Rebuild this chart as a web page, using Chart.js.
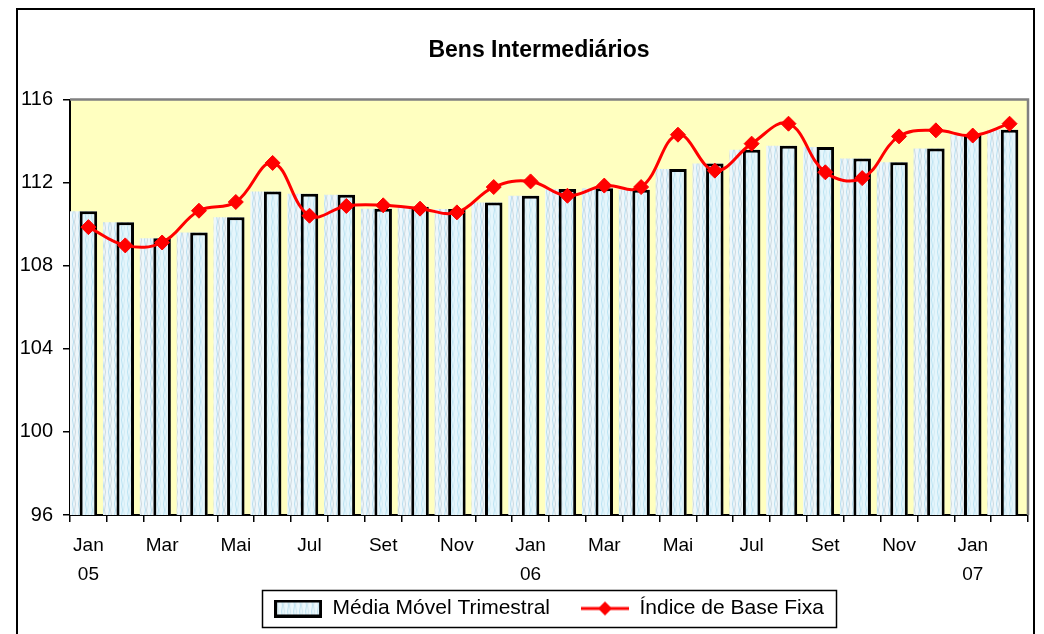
<!DOCTYPE html>
<html>
<head>
<meta charset="utf-8">
<script src="https://cdn.jsdelivr.net/npm/chart.js@4/dist/chart.umd.min.js"></script>
<style>
html,body{margin:0;padding:0;background:#fff;}
#wrap{position:relative;width:1044px;height:634px;overflow:hidden;}
#frame{position:absolute;left:16px;top:8px;width:1019px;height:660px;border:2px solid #000;box-sizing:border-box;pointer-events:none;}
canvas{position:absolute;left:0;top:0;}
</style>
</head>
<body>
<div id="wrap"><canvas id="c" width="1044" height="634"></canvas><div id="frame"></div></div>
<script>
// ---- data ----
const categories = ["Jan 05","Fev 05","Mar 05","Abr 05","Mai 05","Jun 05","Jul 05","Ago 05","Set 05","Out 05","Nov 05","Dez 05",
  "Jan 06","Fev 06","Mar 06","Abr 06","Mai 06","Jun 06","Jul 06","Ago 06","Set 06","Out 06","Nov 06","Dez 06",
  "Jan 07","Fev 07"];
const tickLabels = [["Jan","05"],"",["Mar"],"",["Mai"],"",["Jul"],"",["Set"],"",["Nov"],"",
  ["Jan","06"],"",["Mar"],"",["Mai"],"",["Jul"],"",["Set"],"",["Nov"],"",
  ["Jan","07"],""];
const mediaMovel = [110.62,110.09,109.33,109.60,110.33,111.57,111.47,111.42,110.75,110.84,110.73,111.04,
  111.37,111.70,111.73,111.66,112.66,112.92,113.59,113.78,113.72,113.16,112.98,113.64,
  114.31,114.55];
const indiceBaseFixa = [109.86,108.98,109.12,110.65,111.07,112.95,110.41,110.88,110.91,110.75,110.57,111.79,
  112.06,111.37,111.86,111.79,114.31,112.58,113.88,114.84,112.50,112.22,114.23,114.52,
  114.27,114.84];
const yTicks = [96,100,104,108,112,116];
const seriesNames = ["Média Móvel Trimestral","Índice de Base Fixa"];
const chartTitle = "Bens Intermediários";

// ---- styles ----
const FONT = "'Liberation Sans', Arial, sans-serif";
const canvas = document.getElementById('c');

function makeHatch(bg, c1, c2){
  const c = document.createElement('canvas'); c.width = 6; c.height = 12;
  const x = c.getContext('2d');
  x.fillStyle = bg; x.fillRect(0,0,6,12);
  x.lineWidth = 1;
  x.strokeStyle = c1; x.beginPath(); x.moveTo(1.5,0); x.lineTo(2.5,6); x.lineTo(1.5,12); x.stroke();
  x.strokeStyle = c2; x.beginPath(); x.moveTo(4.5,0); x.lineTo(3.5,6); x.lineTo(4.5,12); x.stroke();
  return x.createPattern(c,'repeat');
}
const ghostFill = makeHatch('#eef7fb','#b8def0','#cdd9e0');
const barFill = makeHatch('#e6f6fc','#bce4f4','#d2ecf5');

function barSwatch(){
  const c = document.createElement('canvas'); c.width = 48; c.height = 18;
  const x = c.getContext('2d');
  x.fillStyle = makeHatch('#ecf8fc','#b9dfee','#cfe6ee');
  x.fillRect(0,0,48,18);
  x.strokeStyle = '#000'; x.lineWidth = 3;
  x.strokeRect(1.5,1.5,45,15);
  return c;
}
function lineSwatch(){
  const c = document.createElement('canvas'); c.width = 48; c.height = 18;
  const x = c.getContext('2d');
  x.strokeStyle = '#ff0000'; x.lineWidth = 3;
  x.beginPath(); x.moveTo(0,9); x.lineTo(48,9); x.stroke();
  x.fillStyle = '#ff0000';
  x.beginPath(); x.moveTo(24,2); x.lineTo(31,9); x.lineTo(24,16); x.lineTo(17,9); x.closePath(); x.fill();
  return c;
}
const swatches = [barSwatch(), lineSwatch()];

const plotDecor = {
  id: 'plotDecor',
  beforeDraw(chart){
    const {ctx, chartArea:a} = chart;
    ctx.save();
    ctx.fillStyle = '#ffffc0';
    ctx.fillRect(a.left, a.top, a.right - a.left, a.bottom - a.top);
    ctx.restore();
  },
  beforeDatasetDraw(chart, args){
    if (chart.data.datasets[args.index].ghost){
      const {ctx, chartArea:a} = chart;
      ctx.save();
      ctx.beginPath(); ctx.rect(a.left, a.top, a.right - a.left, a.bottom - a.top); ctx.clip();
      ctx.translate(-7, 0);
    }
  },
  afterDatasetDraw(chart, args){
    if (chart.data.datasets[args.index].ghost) chart.ctx.restore();
  },
  afterDraw(chart){
    const {ctx, chartArea:a} = chart;
    ctx.save();
    ctx.strokeStyle = '#808080'; ctx.lineWidth = 2.5;
    ctx.beginPath();
    ctx.moveTo(a.left, a.top); ctx.lineTo(a.right, a.top); ctx.lineTo(a.right, a.bottom);
    ctx.stroke();
    const hb = chart.legend && chart.legend.legendHitBoxes;
    if (hb && hb.length){
      let l = Infinity, r = -Infinity, t = Infinity, b = -Infinity;
      hb.forEach(h => { l = Math.min(l, h.left); r = Math.max(r, h.left + h.width); t = Math.min(t, h.top); b = Math.max(b, h.top + h.height); });
      ctx.strokeStyle = '#000'; ctx.lineWidth = 1.5;
      ctx.strokeRect(Math.round(l - 12) + 0.5, Math.round(t - 8) + 0.5, Math.round(r - l + 24), Math.round(b - t + 16));
    }
    ctx.restore();
  }
};

function noLabelClip(scale){ scale._computeLabelArea = () => undefined; }

new Chart(canvas, {
  data: {
    labels: categories,
    datasets: [
      { type:'bar', label: seriesNames[0], data: mediaMovel, backgroundColor: barFill,
        borderColor:'#000', borderWidth:3, grouped:false, barPercentage:0.475, categoryPercentage:1, order:1 },
      { type:'line', label: seriesNames[1], data: indiceBaseFixa, borderColor:'#ff0000', borderWidth:3,
        tension:0.4, pointStyle:'rectRot', pointRadius:7.5, pointBackgroundColor:'#ff0000',
        pointBorderColor:'#ff0000', pointBorderWidth:1, order:0 },
      { type:'bar', label:'ghost', ghost:true, data: mediaMovel, backgroundColor: ghostFill,
        borderWidth:0, grouped:false, barPercentage:0.83, categoryPercentage:1, order:2 }
    ]
  },
  options: {
    responsive:false, animation:false,
    layout:{ padding:{ left:50, right:16, top:0, bottom:5 } },
    plugins:{
      title:{ display:true, text: chartTitle, color:'#000',
        font:{ family:FONT, size:23, weight:'bold' }, padding:{ top:37, bottom:35 } },
      legend:{ position:'bottom', fullSize:false,
        labels:{ usePointStyle:true, pointStyleWidth:48, boxHeight:18, padding:31, color:'#000',
          font:{ family:FONT, size:21 },
          filter:(item) => item.datasetIndex !== 2,
          sort:(a,b) => a.datasetIndex - b.datasetIndex,
          generateLabels(chart){
            const items = Chart.defaults.plugins.legend.labels.generateLabels(chart);
            items.forEach(it => { if (it.datasetIndex < 2) it.pointStyle = swatches[it.datasetIndex]; });
            return items;
          } } },
      tooltip:{ enabled:false }
    },
    scales:{
      x:{ offset:true,
        grid:{ offset:true, drawOnChartArea:false, drawTicks:true, tickLength:7, color:'#000', lineWidth:1.5 },
        border:{ display:true, color:'#000', width:2 },
        ticks:{ autoSkip:false, maxRotation:0, minRotation:0, padding:10, color:'#000',
          font:{ family:FONT, size:19, lineHeight:1.5 },
          callback:(v, i) => tickLabels[i] },
        afterFit(scale){ scale.height = 52; noLabelClip(scale); } },
      y:{ min: yTicks[0], max: yTicks[yTicks.length-1], beginAtZero:false,
        afterBuildTicks(scale){ scale.ticks = yTicks.map(v => ({ value:v })); },
        grid:{ drawOnChartArea:false, drawTicks:true, tickLength:7, color:'#000', lineWidth:1.5 },
        border:{ display:true, color:'#000', width:2 },
        ticks:{ padding:10, color:'#000', font:{ family:FONT, size:20 } },
        afterFit(scale){ scale.width = 20; noLabelClip(scale); } }
    }
  },
  plugins:[plotDecor]
});
</script>
</body>
</html>
